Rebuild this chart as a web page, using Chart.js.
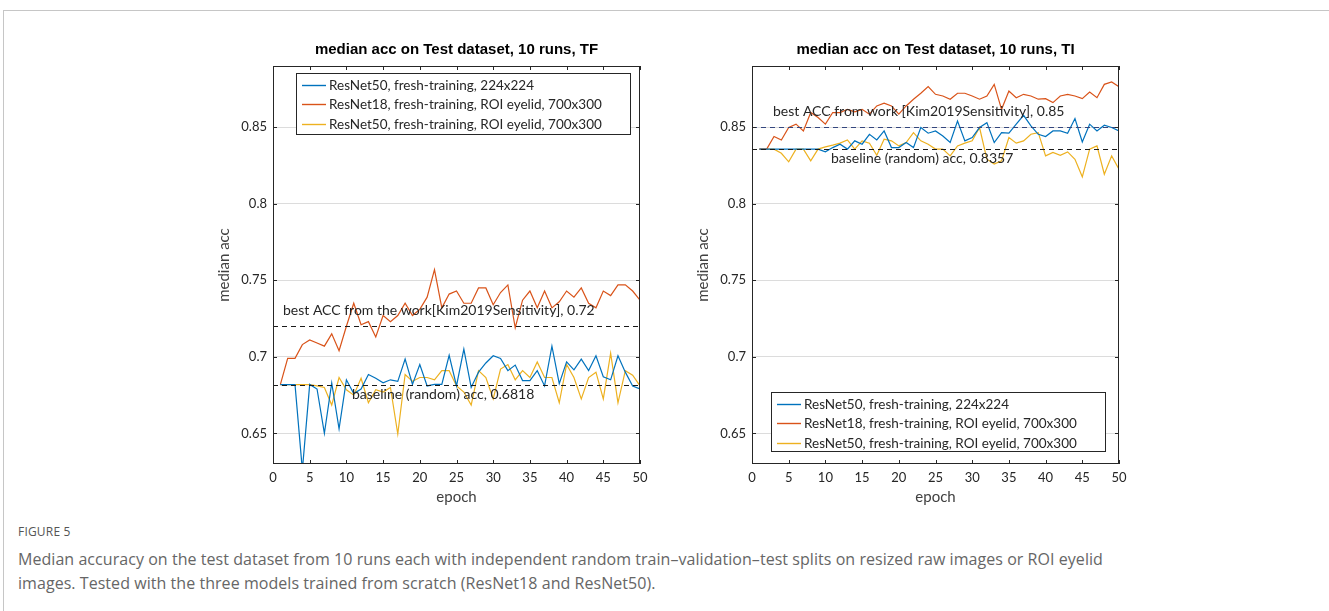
<!DOCTYPE html>
<html>
<head>
<meta charset="utf-8">
<script src="https://cdn.jsdelivr.net/npm/chart.js@4.4.1/dist/chart.umd.min.js"></script>
<style>
  body { margin: 0; background: #fff; width: 1329px; height: 611px; position: relative; overflow: hidden; font-family: "Open Sans", sans-serif; }
  .frame { position: absolute; left: 3px; top: 10px; width: 1400px; height: 700px; border-left: 1px solid #c6c6c6; border-top: 1px solid #c6c6c6; }
  .panel { position: absolute; top: 30px; }
  #capHead { position: absolute; left: 18px; top: 523px; font-size: 12px; color: #555; letter-spacing: 0.2px; }
  #capText { position: absolute; left: 18px; top: 547px; font-size: 16px; line-height: 24px; color: #666; white-space: nowrap; letter-spacing: 0.05px; }
</style>
</head>
<body>
<div class="frame"></div>
<canvas id="tfChart" class="panel" style="left:190px" width="470" height="490"></canvas>
<canvas id="tiChart" class="panel" style="left:669px" width="470" height="490"></canvas>
<div id="capHead">FIGURE 5</div>
<div id="capText">Median accuracy on the test dataset from 10 runs each with independent random train–validation–test splits on resized raw images or ROI eyelid<br>images. Tested with the three models trained from scratch (ResNet18 and ResNet50).</div>

<script>
// ---- data ----
const epochs = Array.from({ length: 50 }, (_, i) => i + 1);
const xTicks = [0, 5, 10, 15, 20, 25, 30, 35, 40, 45, 50];
const yTicks = [0.65, 0.7, 0.75, 0.8, 0.85];
const yTickLabels = ['0.65', '0.7', '0.75', '0.8', '0.85'];

const seriesNames = [
  'ResNet50, fresh-training, 224x224',
  'ResNet18, fresh-training, ROI eyelid, 700x300',
  'ResNet50, fresh-training, ROI eyelid, 700x300'
];
const seriesColors = ['#0072BD', '#D95319', '#EDB120'];

// TF panel
const tfResNet50 = [0.6818, 0.6818, 0.6818, 0.626, 0.682, 0.679, 0.650, 0.683, 0.653, 0.685,
  0.676, 0.679, 0.6885, 0.686, 0.683, 0.685, 0.684, 0.6985, 0.682, 0.695,
  0.681, 0.682, 0.682, 0.701, 0.681, 0.705, 0.680, 0.690, 0.696, 0.7007,
  0.699, 0.691, 0.6946, 0.6845, 0.6845, 0.691, 0.681, 0.707, 0.6825, 0.6967,
  0.6915, 0.6985, 0.691, 0.7007, 0.687, 0.685, 0.7007, 0.690, 0.681, 0.679];
const tfResNet18 = [0.6818, 0.699, 0.699, 0.708, 0.711, 0.709, 0.707, 0.715, 0.704, 0.72,
  0.735, 0.721, 0.723, 0.713, 0.727, 0.723, 0.727, 0.735, 0.727, 0.731,
  0.739, 0.757, 0.732, 0.741, 0.743, 0.735, 0.735, 0.745, 0.745, 0.734,
  0.742, 0.747, 0.719, 0.737, 0.743, 0.732, 0.743, 0.732, 0.736, 0.743,
  0.739, 0.745, 0.735, 0.732, 0.743, 0.740, 0.747, 0.747, 0.743, 0.737];
const tfResNet50Roi = [0.6818, 0.6818, 0.6818, 0.6818, 0.6818, 0.681, 0.680, 0.6685, 0.6865, 0.6785,
  0.675, 0.686, 0.670, 0.6785, 0.677, 0.680, 0.6496, 0.6885, 0.684, 0.6865,
  0.6865, 0.685, 0.691, 0.691, 0.681, 0.677, 0.6685, 0.691, 0.6865, 0.6725,
  0.692, 0.695, 0.685, 0.691, 0.6865, 0.6967, 0.6865, 0.6865, 0.670, 0.695,
  0.6865, 0.6725, 0.6865, 0.690, 0.6725, 0.7024, 0.670, 0.691, 0.688, 0.681];
const tfRefValues = [0.72, 0.6818];
const tfRefTexts = ['best ACC from the work[Kim2019Sensitivity], 0.72', 'baseline (random) acc, 0.6818'];

// TI panel
const tiResNet50 = [0.8357, 0.8357, 0.8357, 0.8357, 0.8357, 0.8357, 0.8357, 0.8357, 0.8357, 0.8339,
  0.8367, 0.8389, 0.8357, 0.8411, 0.8389, 0.8454, 0.8417, 0.8476, 0.8367, 0.8367,
  0.840, 0.8367, 0.8498, 0.8461, 0.8476, 0.8443, 0.840, 0.8541, 0.8411, 0.8433,
  0.8498, 0.853, 0.840, 0.8465, 0.8461, 0.852, 0.8578, 0.8509, 0.8454, 0.8439,
  0.8476, 0.8476, 0.8461, 0.8557, 0.8404, 0.852, 0.8476, 0.8513, 0.8498, 0.8476];
const tiResNet18 = [0.8357, 0.8357, 0.8439, 0.8417, 0.8498, 0.852, 0.8476, 0.8596, 0.8563, 0.852,
  0.8596, 0.8596, 0.8617, 0.860, 0.8617, 0.8585, 0.8639, 0.8657, 0.8639, 0.8585,
  0.8639, 0.8683, 0.8722, 0.8765, 0.8715, 0.8704, 0.8683, 0.8722, 0.8722, 0.8704,
  0.8683, 0.8704, 0.878, 0.8617, 0.8737, 0.8693, 0.8715, 0.8704, 0.8683, 0.8687,
  0.8661, 0.8704, 0.8715, 0.8704, 0.8687, 0.873, 0.8693, 0.878, 0.8796, 0.8765];
const tiResNet50Roi = [0.8357, 0.8357, 0.8357, 0.833, 0.8274, 0.8357, 0.8357, 0.828, 0.8357, 0.8372,
  0.8383, 0.8396, 0.8417, 0.8357, 0.8411, 0.8396, 0.8317, 0.8422, 0.8411, 0.8378,
  0.840, 0.8465, 0.8411, 0.8389, 0.8357, 0.8357, 0.8313, 0.8378, 0.8396, 0.8411,
  0.8498, 0.8291, 0.8259, 0.828, 0.8433, 0.8396, 0.8411, 0.8454, 0.8465, 0.8313,
  0.8335, 0.8317, 0.8339, 0.8291, 0.8176, 0.8357, 0.8378, 0.8193, 0.8313, 0.8226];
const tiRefValues = [0.85, 0.8357];
const tiRefTexts = ['best ACC from work [Kim2019Sensitivity], 0.85', 'baseline (random) acc, 0.8357'];

// ---- drawing ----
const ink = '#262626';

// matlab-ish box, inward ticks, reference lines, legend and title
const matlabAxes = {
  id: 'matlabAxes',
  afterDatasetsDraw(chart, args, o) {
    const { ctx, chartArea: a, scales: { x, y } } = chart;
    ctx.save();

    // dashed reference lines
    o.refValues.forEach((v, i) => {
      const py = Math.round(y.getPixelForValue(v)) + 0.5;
      ctx.strokeStyle = o.refColors[i];
      ctx.lineWidth = 1;
      ctx.setLineDash([5, 4]);
      ctx.beginPath();
      ctx.moveTo(a.left, py);
      ctx.lineTo(a.right, py);
      ctx.stroke();
    });
    ctx.setLineDash([]);

    ctx.font = '14px Lato';
    ctx.fillStyle = ink;
    ctx.textBaseline = 'middle';
    o.refTexts.forEach((t, i) => {
      ctx.fillText(t, a.left + o.refOffsets[i][0], y.getPixelForValue(o.refValues[i]) + o.refOffsets[i][1]);
    });

    // box
    ctx.strokeStyle = ink;
    ctx.lineWidth = 1;
    ctx.strokeRect(a.left + 0.5, a.top + 0.5, a.width - 1, a.height - 1);

    // inward ticks
    ctx.beginPath();
    xTicks.forEach(v => {
      const px = Math.round(x.getPixelForValue(v)) + 0.5;
      ctx.moveTo(px, a.bottom); ctx.lineTo(px, a.bottom - 4);
      ctx.moveTo(px, a.top); ctx.lineTo(px, a.top + 4);
    });
    yTicks.forEach(v => {
      const py = Math.round(y.getPixelForValue(v)) + 0.5;
      ctx.moveTo(a.left, py); ctx.lineTo(a.left + 4, py);
      ctx.moveTo(a.right, py); ctx.lineTo(a.right - 4, py);
    });
    ctx.stroke();

    // legend box
    const lx = a.left + o.legend[0];
    const ly = o.legend[1] >= 0 ? a.top + o.legend[1] : a.bottom + o.legend[1];
    ctx.fillStyle = '#fff';
    ctx.fillRect(lx, ly, o.legend[2], o.legend[3]);
    ctx.strokeStyle = ink;
    ctx.strokeRect(lx + 0.5, ly + 0.5, o.legend[2] - 1, o.legend[3] - 1);
    ctx.font = '13.5px Lato';
    chart.data.datasets.forEach((ds, i) => {
      const ry = Math.round(ly + 12 + i * 19.3) + 0.5;
      ctx.strokeStyle = ds.borderColor;
      ctx.lineWidth = 1.4;
      ctx.beginPath();
      ctx.moveTo(lx + 6, ry);
      ctx.lineTo(lx + 30, ry);
      ctx.stroke();
      ctx.fillStyle = ink;
      ctx.fillText(ds.label, lx + 33, ry);
    });

    // title
    ctx.font = 'bold 15px "Liberation Sans"';
    ctx.textAlign = 'center';
    ctx.fillStyle = '#000';
    ctx.fillText(o.title, (a.left + a.right) / 2, a.top - 16);
    ctx.restore();
  }
};

function makeChart(id, title, series, refValues, refTexts, look) {
  new Chart(document.getElementById(id), {
    type: 'line',
    data: {
      datasets: series.map((vals, i) => ({
        label: seriesNames[i],
        data: vals.map((v, j) => ({ x: epochs[j], y: v })),
        borderColor: seriesColors[i],
        borderWidth: 1.2,
        pointRadius: 0,
        tension: 0,
        fill: false
      }))
    },
    options: {
      responsive: false,
      animation: false,
      devicePixelRatio: 1,
      layout: { padding: { top: 36, right: 20, left: 0, bottom: 0 } },
      plugins: {
        legend: { display: false },
        tooltip: { enabled: false },
        matlabAxes: Object.assign({ title, refValues, refTexts }, look)
      },
      scales: {
        x: {
          type: 'linear', min: 0, max: 50,
          afterBuildTicks: s => { s.ticks = xTicks.map(v => ({ value: v })); },
          afterFit: s => { s.height = 56; },
          grid: { display: false, drawTicks: false },
          border: { display: false },
          ticks: { padding: 6, color: ink, font: { family: 'Lato', size: 13 }, maxRotation: 0, autoSkip: false },
          title: { display: true, text: 'epoch', color: '#404040', font: { family: 'Lato', size: 15 }, padding: { top: 0, bottom: 14 } }
        },
        y: {
          type: 'linear', min: 0.63, max: 0.89,
          afterBuildTicks: s => { s.ticks = yTicks.map(v => ({ value: v })); },
          afterFit: s => { s.width = 83; },
          grid: { color: '#dcdcdc', drawTicks: false },
          border: { display: false },
          ticks: { padding: 6, color: ink, font: { family: 'Lato', size: 13 }, callback: v => yTickLabels[yTicks.indexOf(v)] },
          title: { display: true, text: 'median acc', color: '#404040', font: { family: 'Lato', size: 15 }, padding: { top: 25, bottom: 0 } }
        }
      }
    },
    plugins: [matlabAxes]
  });
}

makeChart('tfChart', 'median acc on Test dataset, 10 runs, TF',
  [tfResNet50, tfResNet18, tfResNet50Roi], tfRefValues, tfRefTexts,
  { refColors: ['#1a1a1a', '#1a1a1a'], refOffsets: [[10, -16], [79, 10]], legend: [23, 7, 335, 62] });

makeChart('tiChart', 'median acc on Test dataset, 10 runs, TI',
  [tiResNet50, tiResNet18, tiResNet50Roi], tiRefValues, tiRefTexts,
  { refColors: ['#34467e', '#1a1a1a'], refOffsets: [[21, -16], [79, 9]], legend: [19, -72, 335, 60] });
</script>
</body>
</html>
